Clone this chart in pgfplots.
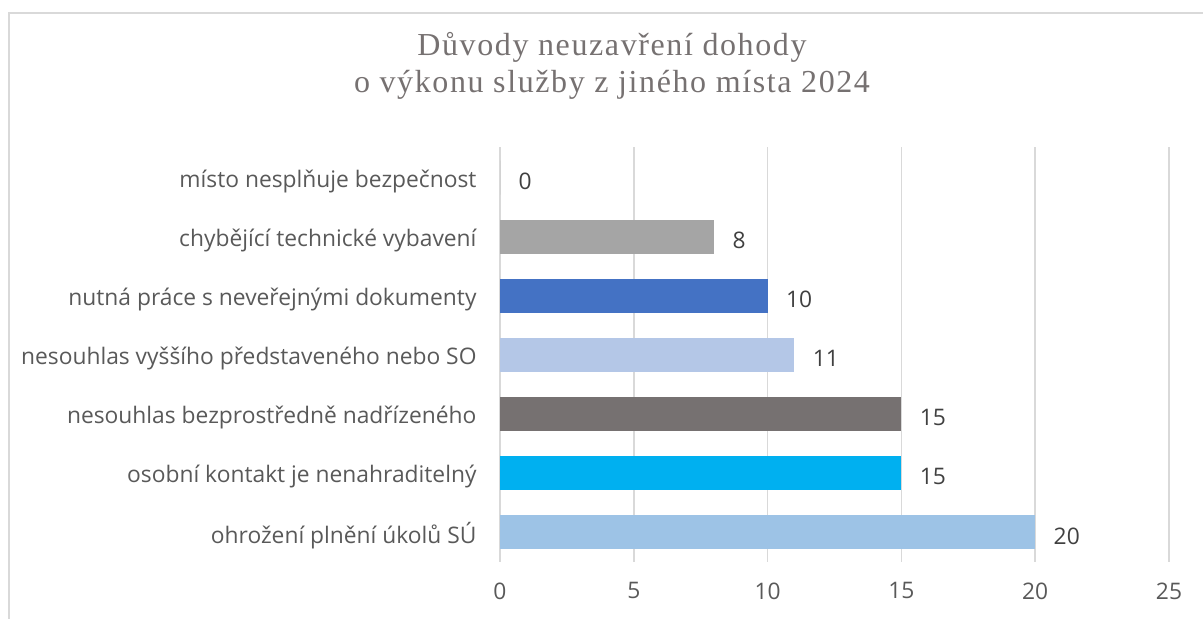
\documentclass[border=0pt]{standalone}
\usepackage{pgfplots}
\pgfplotsset{compat=1.18}
\usepackage{fontspec}
\setmainfont{Open Sans}
\newfontfamily\titlefont[LetterSpace=5]{Liberation Serif}
\definecolor{lbl}{HTML}{595959}
\definecolor{ttl}{HTML}{767171}
\definecolor{num}{HTML}{404040}
\definecolor{grd}{HTML}{D9D9D9}
\definecolor{cA}{HTML}{A5A5A5}
\definecolor{cB}{HTML}{4472C4}
\definecolor{cC}{HTML}{B4C7E7}
\definecolor{cD}{HTML}{767171}
\definecolor{cE}{HTML}{00B0F0}
\definecolor{cF}{HTML}{9DC3E6}
\begin{document}
\begin{tikzpicture}[x=1bp,y=1bp]
\useasboundingbox (0,0) rectangle (1203,619);
\draw[grd,line width=1.5bp] (9,0) -- (9,606) -- (1203,606);
\node[align=center,text=ttl,font={\titlefont\fontsize{32bp}{37bp}\selectfont}] at (612,553) {Důvody neuzavření dohody\\o výkonu služby z jiného místa 2024};
\begin{axis}[at={(500bp,57bp)},anchor=south west,
  scale only axis,width=669bp,height=415bp,
  /pgf/number format/assume math mode=true,
  xbar,bar shift=0pt,bar width=34bp,
  xmin=0,xmax=25,ymin=-0.51,ymax=6.52,
  xtick={0,5,10,15,20,25},
  ytick={0,1,2,3,4,5,6},
  yticklabels={ohrožení plnění úkolů SÚ,osobní kontakt je nenahraditelný,nesouhlas bezprostředně nadřízeného,nesouhlas vyššího představeného nebo SO,nutná práce s neveřejnými dokumenty,chybějící technické vybavení,místo nesplňuje bezpečnost},
  axis line style={draw=none},
  major tick length=0pt,
  xmajorgrids,
  grid style={grd,line width=1.5bp},
  tick label style={text=lbl,font=\fontsize{22.8bp}{26bp}\selectfont},
  yticklabel style={xshift=-20bp,yshift=-4bp},
  xticklabel style={yshift=-17bp},
  nodes near coords,
  nodes near coords style={text=num,font=\fontsize{22.8bp}{26bp}\selectfont,anchor=west,xshift=15bp,yshift=-4bp},
]
\addplot[fill=cF,draw=none] coordinates {(20,0)};
\addplot[fill=cE,draw=none] coordinates {(15,1)};
\addplot[fill=cD,draw=none] coordinates {(15,2)};
\addplot[fill=cC,draw=none] coordinates {(11,3)};
\addplot[fill=cB,draw=none] coordinates {(10,4)};
\addplot[fill=cA,draw=none] coordinates {(8,5)};
\addplot[fill=cA,draw=none] coordinates {(0,6)};
\end{axis}
\end{tikzpicture}
\end{document}
